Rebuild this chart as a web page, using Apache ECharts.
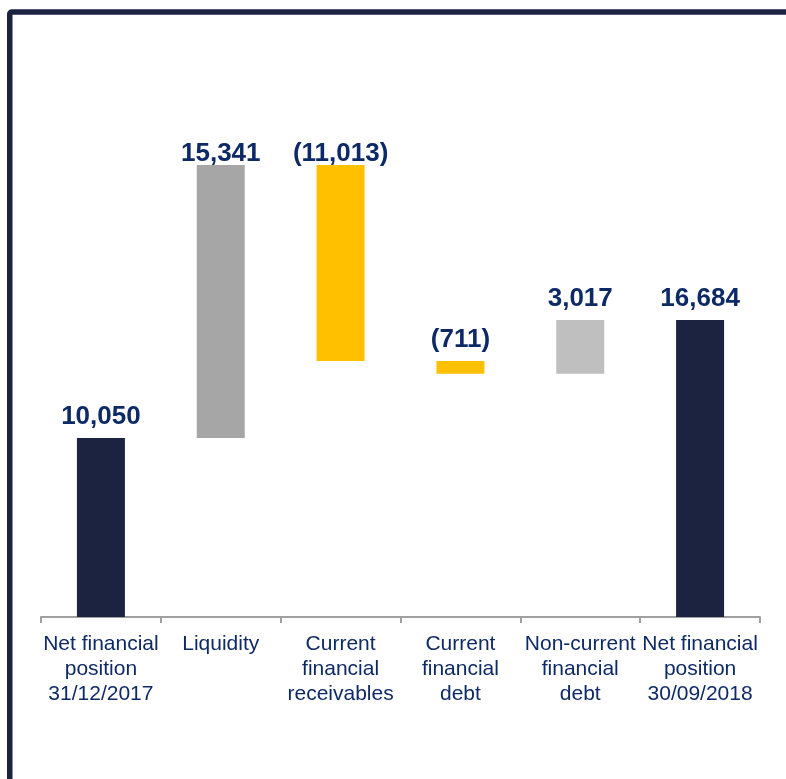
<!DOCTYPE html>
<html>
<head>
<meta charset="utf-8">
<script src="https://cdn.jsdelivr.net/npm/echarts@6/dist/echarts.min.js"></script>
<style>
  html, body { margin: 0; padding: 0; background: #ffffff; }
  #chart { width: 786px; height: 779px; }
</style>
</head>
<body>
<div id="chart"></div>
<script>
// Net financial position bridge (EUR thousands)
const categories = [
  'Net financial\nposition\n31/12/2017',
  'Liquidity',
  'Current\nfinancial\nreceivables',
  'Current\nfinancial\ndebt',
  'Non-current\nfinancial\ndebt',
  'Net financial\nposition\n30/09/2018'
];
const values = [10050, 15341, -11013, -711, 3017, 16684];
const isTotal = [true, false, false, false, false, true];
const barColors = ['#1b2340', '#a6a6a6', '#ffc000', '#ffc000', '#bfbfbf', '#1b2340'];

const Y_MAX = 30000;

// Floating bars: invisible base + visible segment
const baseData = [];
const barData = [];
let running = 0;
values.forEach(function (v, i) {
  let base, height;
  if (isTotal[i]) {
    base = 0;
    height = v;
    running = v;
  } else {
    const start = running;
    const end = running + v;
    base = Math.min(start, end);
    height = Math.abs(v);
    running = end;
  }
  baseData.push(base);
  const top = base + height;
  // labels near the top of the plot sit closer to their bar
  const nearTop = top > Y_MAX * 0.8;
  barData.push({
    value: height,
    raw: v,
    itemStyle: { color: barColors[i] },
    label: { distance: nearTop ? -2 : 8 }
  });
});

function fmt(v) {
  const s = Math.abs(v).toLocaleString('en-US');
  return v < 0 ? '(' + s + ')' : s;
}

const chart = echarts.init(document.getElementById('chart'), null, { renderer: 'canvas' });
chart.setOption({
  backgroundColor: '#ffffff',
  animation: false,
  grid: { left: 41, right: 26, top: 83, bottom: 162, containLabel: false },
  xAxis: {
    type: 'category',
    data: categories,
    boundaryGap: true,
    axisLine: { lineStyle: { color: '#a0a0a0', width: 2 } },
    axisTick: { show: true, length: 6, lineStyle: { color: '#a0a0a0', width: 2 } },
    axisLabel: {
      interval: 0,
      color: '#0e2a66',
      fontFamily: 'Liberation Sans, Arial, sans-serif',
      fontSize: 21,
      lineHeight: 25,
      margin: 15
    }
  },
  yAxis: {
    type: 'value',
    min: 0,
    max: Y_MAX,
    show: false,
    splitLine: { show: false }
  },
  series: [
    {
      type: 'bar',
      stack: 'bridge',
      data: baseData,
      itemStyle: { color: 'transparent' },
      barWidth: 48,
      silent: true
    },
    {
      type: 'bar',
      stack: 'bridge',
      data: barData,
      barWidth: 48,
      label: {
        show: true,
        position: 'top',
        color: '#0e2a66',
        fontFamily: 'Liberation Sans, Arial, sans-serif',
        fontWeight: 'bold',
        fontSize: 26,
        formatter: function (p) { return fmt(p.data.raw); }
      }
    }
  ],
  graphic: [
    {
      type: 'rect',
      shape: { x: 9.75, y: 12, width: 820, height: 820, r: 2 },
      style: { fill: 'none', stroke: '#1b2340', lineWidth: 5.5 },
      silent: true
    }
  ]
});
</script>
</body>
</html>
